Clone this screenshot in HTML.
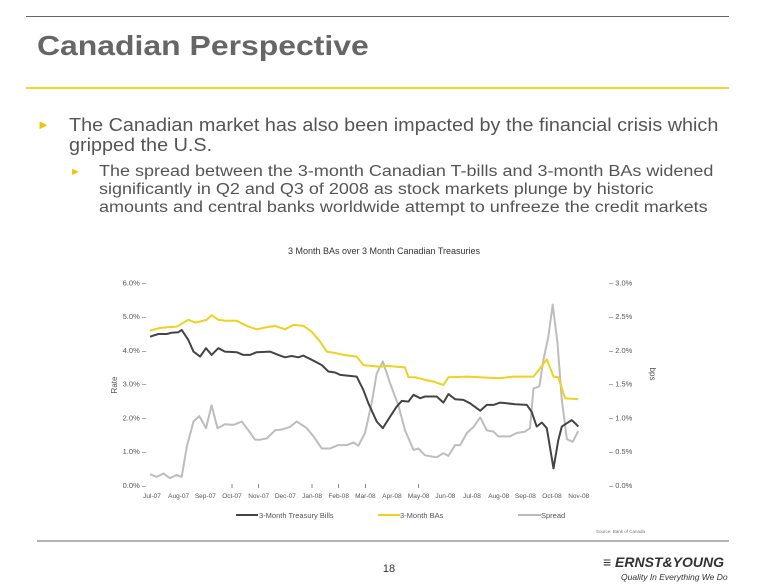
<!DOCTYPE html>
<html><head><meta charset="utf-8">
<style>
body{margin:0;width:767px;height:587px;background:#fff;overflow:hidden;font-family:"Liberation Sans",sans-serif;position:relative}
.abs{position:absolute}
.sx{transform-origin:0 0;white-space:nowrap}
</style></head><body>
<div class="abs" style="left:26px;top:16px;width:703px;height:1px;background:#666"></div>
<div class="abs sx" style="left:37px;top:30px;font-size:28px;font-weight:bold;color:#666;transform:scaleX(1.14)">Canadian Perspective</div>
<div class="abs" style="left:26px;top:87px;width:703px;height:2px;background:#f3d52d"></div>
<div class="abs" style="left:37px;top:117px;font-size:13px;color:#f0c500">►</div>
<div class="abs sx" style="left:69px;top:115px;font-size:18px;line-height:20px;color:#555;transform:scaleX(1.1)">The Canadian market has also been impacted by the financial crisis which<br>gripped the U.S.</div>
<div class="abs" style="left:70px;top:166px;font-size:11px;color:#f0c500">►</div>
<div class="abs sx" style="left:99px;top:163px;font-size:15.5px;line-height:18px;color:#555;transform:scaleX(1.16)">The spread between the 3-month Canadian T-bills and 3-month BAs widened<br>significantly in Q2 and Q3 of 2008 as stock markets plunge by historic<br>amounts and central banks worldwide attempt to unfreeze the credit markets</div>

<svg class="abs" style="left:0;top:0" width="767" height="587" font-family="Liberation Sans, sans-serif">
<text x="384" y="254" font-size="9" text-anchor="middle" fill="#333">3 Month BAs over 3 Month Canadian Treasuries</text>
<text transform="translate(117,385) rotate(-90)" font-size="8" text-anchor="middle" fill="#555">Rate</text>
<text transform="translate(650,374) rotate(90)" font-size="8" text-anchor="middle" fill="#555">bps</text>
<g id="axes"></g>
<g id="lines"></g>
<g id="legend">
<line x1="236" y1="515" x2="258" y2="515" stroke="#444" stroke-width="2"/>
<text x="259" y="518" font-size="7.5" fill="#555">3-Month Treasury Bills</text>
<line x1="378" y1="515" x2="400" y2="515" stroke="#f0d020" stroke-width="2"/>
<text x="400" y="518" font-size="7.5" fill="#555">3-Month BAs</text>
<line x1="518" y1="515" x2="541" y2="515" stroke="#bbb" stroke-width="2"/>
<text x="541" y="518" font-size="7.5" fill="#555">Spread</text>
</g>
<text x="596" y="533" font-size="4.5" fill="#777">Source: Bank of Canada</text>
<line x1="37" y1="541" x2="729" y2="541" stroke="#666" stroke-width="1"/>
<text x="389" y="572" font-size="11" text-anchor="middle" fill="#333">18</text>
<text x="603" y="567" font-size="14" font-weight="bold" font-style="italic" fill="#333">≡ ERNST&amp;YOUNG</text>
<text x="621" y="580" font-size="8.5" font-style="italic" fill="#333">Quality In Everything We Do</text>
</svg>
<script>
const months=["Jul-07","Aug-07","Sep-07","Oct-07","Nov-07","Dec-07","Jan-08","Feb-08","Mar-08","Apr-08","May-08","Jun-08","Jul-08","Aug-08","Sep-08","Oct-08","Nov-08"];
const leftTicks=[0,1,2,3,4,5,6];
const rightTicks=[0,0.5,1,1.5,2,2.5,3];
const tbX=[0,.31,.63,.81,1.06,1.19,1.44,1.63,1.88,2.1,2.31,2.56,2.81,3.25,3.5,3.75,4,4.5,4.81,5.06,5.31,5.56,5.75,6.13,6.44,6.69,6.94,7.13,7.75,8,8.19,8.5,8.73,9,9.25,9.44,9.69,9.88,10.13,10.31,10.75,11,11.19,11.44,11.75,12,12.38,12.63,12.88,13.13,13.38,13.69,14.13,14.31,14.5,14.69,14.88,15.13,15.31,15.44,15.63,15.81,15.94,16.06];
const tbY=[4.39,4.47,4.47,4.51,4.52,4.59,4.29,3.95,3.80,4.05,3.85,4.05,3.95,3.93,3.85,3.85,3.93,3.95,3.85,3.78,3.82,3.78,3.83,3.68,3.55,3.36,3.33,3.26,3.21,2.81,2.42,1.88,1.68,2.02,2.32,2.49,2.47,2.67,2.57,2.62,2.62,2.44,2.69,2.54,2.52,2.42,2.20,2.37,2.37,2.44,2.42,2.39,2.37,2.17,1.73,1.85,1.68,0.49,1.33,1.73,1.83,1.92,1.83,1.73];
const baX=[0,.31,.63,1,1.44,1.69,1.88,2.13,2.31,2.56,2.81,3.25,3.63,4,4.38,4.69,5.06,5.38,5.75,6.06,6.38,6.63,7,7.25,7.75,8,8.25,8.63,8.88,9.25,9.56,9.69,9.94,10.31,10.63,11,11.19,11.88,13.13,13.63,14.38,14.63,14.88,15.13,15.31,15.56,16.06];
const baY=[4.57,4.64,4.67,4.69,4.89,4.81,4.84,4.89,5.03,4.89,4.86,4.86,4.71,4.61,4.67,4.71,4.61,4.74,4.71,4.54,4.24,3.95,3.90,3.85,3.80,3.55,3.53,3.50,3.53,3.50,3.48,3.19,3.19,3.11,3.06,2.96,3.19,3.21,3.16,3.21,3.21,3.46,3.72,3.21,3.19,2.57,2.54];
const spX=[0,.25,.5,.75,1,1.19,1.38,1.63,1.85,2.1,2.31,2.53,2.81,3.13,3.44,3.69,3.94,4.13,4.38,4.69,4.94,5.25,5.5,5.88,6.13,6.44,6.75,7.06,7.38,7.63,7.81,8.06,8.31,8.5,8.73,9,9.31,9.56,9.88,10.06,10.31,10.75,11,11.19,11.44,11.63,11.88,12.13,12.38,12.63,12.88,13.06,13.5,13.75,14.06,14.25,14.38,14.6,14.75,14.94,15.1,15.28,15.44,15.63,15.85,16.06];
const spY=[0.16,0.12,0.17,0.10,0.15,0.12,0.57,0.94,1.02,0.84,1.18,0.84,0.90,0.89,0.94,0.81,0.67,0.67,0.69,0.81,0.82,0.86,0.94,0.84,0.72,0.54,0.54,0.59,0.59,0.63,0.58,0.77,1.21,1.65,1.83,1.51,1.18,0.81,0.52,0.54,0.44,0.41,0.47,0.43,0.59,0.59,0.77,0.86,1.00,0.81,0.79,0.72,0.72,0.77,0.79,0.84,1.43,1.46,1.85,2.20,2.67,2.10,1.26,0.68,0.64,0.80];
const NS="http://www.w3.org/2000/svg";
const xS=m=>150+m*26.67;
const yL=v=>485-v*33.78;
const yR=v=>485-v*67.56;
const axes=document.getElementById('axes'),lines=document.getElementById('lines');
function mk(tag,attrs,parent){const e=document.createElementNS(NS,tag);for(const k in attrs)e.setAttribute(k,attrs[k]);parent.appendChild(e);return e;}
leftTicks.forEach(v=>{
  const t=mk('text',{x:146,y:yL(v)+3,'font-size':7.5,'text-anchor':'end',fill:'#555'},axes);
  
  
  t.textContent=v.toFixed(1)+'% –';
});
rightTicks.forEach(v=>{
  const t=mk('text',{x:609,y:yR(v)+3,'font-size':7.5,fill:'#555'},axes);
  
  
  t.textContent='– '+v.toFixed(1)+'%';
});
months.forEach((mo,i)=>{
  const t=mk('text',{x:xS(i)+2,y:498,'font-size':6.5,'text-anchor':'middle',fill:'#555'},axes);
  
  
  t.textContent=mo;
  if([3,4,6,7,8,10].includes(i)){
    const l=mk('line',{x1:xS(i)+2,x2:xS(i)+2,y1:484,y2:488,stroke:'#666','stroke-width':0.8},axes);
    
    
  }
});
function series(xs,ys,yf,color,name){
  const d=xs.map((x,i)=>(i?'L':'M')+xS(x).toFixed(1)+','+yf(ys[i]).toFixed(1)).join(' ');
  const p=mk('path',{d:d,fill:'none',stroke:color,'stroke-width':2,'stroke-linejoin':'round'},lines);
  
  
}
series(spX,spY,yR,'#bdbdbd','spread-line');
series(baX,baY,yL,'#f0d020','bas-line');
series(tbX,tbY,yL,'#444','tbills-line');
</script>
</body></html>
